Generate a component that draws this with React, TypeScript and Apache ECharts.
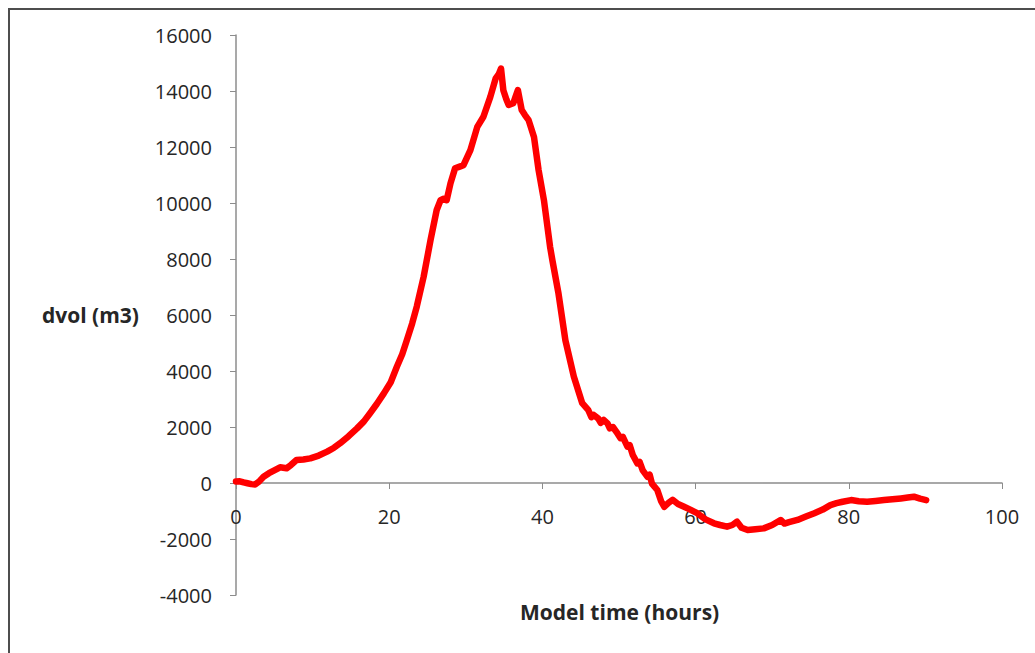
import React, { useEffect, useRef } from "react";
import * as echarts from "echarts";

const timeHours = [
  0, 0.5, 1, 1.5, 2, 2.5, 3, 3.6, 4.3, 5, 5.75, 6.6, 7.2, 7.9, 8.8, 9.7, 10.8, 11.9, 12.8, 13.6,
  14.7, 15.8, 16.7, 17.5, 18.4, 19.3, 20.2, 21, 21.7, 22.3, 23, 23.6, 24.5, 25.4, 26.2, 26.7, 27.1,
  27.5, 28, 28.6, 29.2, 29.7, 30.6, 31.5, 32.3, 33.2, 33.9, 34.3, 34.6, 34.9, 35.3, 35.6, 36.2, 36.5,
  36.8, 37.3, 37.7, 38.2, 38.9, 39.5, 40.2, 41, 41.3, 42.1, 43, 44.1, 45.2, 46, 46.4, 46.7, 47.3, 47.6,
  48, 48.5, 48.8, 49.2, 49.8, 50.2, 50.5, 51.1, 51.4, 51.8, 52.4, 52.7, 53.1, 53.7, 54, 54.3, 55,
  55.5, 55.9, 56.5, 57, 57.7, 58.5, 59.3, 60.2, 60.8, 61.3, 62.4, 63.2, 64.1, 64.8, 65.4, 66, 66.8,
  67.8, 68.9, 70, 71.1, 71.6, 72.2, 73.3, 74.4, 75.5, 76.6, 77.6, 78.4, 79.2, 80.3, 81.3, 82.4, 83.5,
  84.6, 85.7, 86.8, 87.7, 88.5, 89.3, 90.1,
];

const dvolValues = [
  50, 60, 20, -10, -40, -50, 50, 225, 350, 450, 560, 525, 650, 820, 840, 880, 980, 1120, 1260, 1420,
  1670, 1950, 2200, 2490, 2830, 3200, 3600, 4150, 4600, 5100, 5700, 6300, 7370, 8680, 9750, 10100, 10150,
  10100, 10700, 11240, 11300, 11350, 11890, 12720, 13080, 13790, 14450, 14600, 14800, 14030, 13700, 13500, 13560, 13800,
  14030, 13320, 13150, 12960, 12360, 11180, 10100, 8440, 7960, 6770, 5100, 3800, 2850, 2600, 2350, 2430, 2300, 2150,
  2250, 2130, 1950, 2000, 1770, 1600, 1650, 1300, 1350, 1000, 700, 750, 450, 225, 300, -20, -250,
  -650, -850, -700, -600, -750, -850, -950, -1080, -1200, -1300, -1440, -1500, -1560, -1500, -1380, -1600, -1680,
  -1650, -1620, -1500, -1320, -1450, -1400, -1320, -1200, -1080, -950, -790, -720, -670, -610, -650, -670, -640,
  -610, -580, -550, -520, -490, -560, -610,
];

const xTitle = "Model time (hours)";
const yTitle = "dvol (m3)";

const FONT = "'Open Sans', 'Liberation Sans', sans-serif";

export default function App() {
  const ref = useRef<HTMLDivElement>(null);

  useEffect(() => {
    if (!ref.current) return;
    const chart = echarts.init(ref.current, undefined, { renderer: "svg" });
    const data = timeHours.map((t, i) => [t, dvolValues[i]]);
    chart.setOption({
      animation: false,
      backgroundColor: "#ffffff",
      grid: { left: 236, right: 33, top: 35, bottom: 58, containLabel: false },
      xAxis: {
        type: "value",
        position: "bottom",
        offset: -112,
        min: 0,
        max: 100,
        interval: 20,
        axisLine: { show: true, onZero: false, lineStyle: { color: "#8c8c8c", width: 1.5 } },
        axisTick: { show: true, length: 6, inside: false, lineStyle: { color: "#8c8c8c" } },
        axisLabel: { margin: 23, color: "#262626", fontSize: 20, fontFamily: FONT },
        splitLine: { show: false },
      },
      yAxis: {
        type: "value",
        min: -4000,
        max: 16000,
        interval: 2000,
        axisLine: { show: true, onZero: false, lineStyle: { color: "#8c8c8c", width: 1.5 } },
        axisTick: { show: true, length: 6, inside: false, lineStyle: { color: "#8c8c8c" } },
        axisLabel: {
          margin: 24,
          color: "#262626",
          fontSize: 20,
          fontFamily: FONT,
          formatter: (v: number) => String(v),
        },
        splitLine: { show: false },
      },
      series: [
        {
          type: "line",
          data,
          showSymbol: false,
          symbol: "none",
          smooth: false,
          lineStyle: { color: "#ff0000", width: 6.5, join: "round", cap: "round" },
          itemStyle: { color: "#ff0000" },
        },
      ],
      graphic: [
        {
          type: "rect",
          shape: { x: 9, y: 9, width: 1100, height: 700 },
          style: { fill: "none", stroke: "#4d4d4d", lineWidth: 2 },
          silent: true,
        },
        {
          type: "text",
          left: 42,
          top: 304,
          style: { text: yTitle, fontSize: 21, fontWeight: "bold", fill: "#262626", fontFamily: FONT },
        },
        {
          type: "text",
          left: 520,
          top: 601,
          style: { text: xTitle, fontSize: 21, fontWeight: "bold", fill: "#262626", fontFamily: FONT },
        },
      ],
    });
    return () => chart.dispose();
  }, []);

  return (
    <div
      ref={ref}
      style={{ position: "fixed", left: 0, top: 0, width: 1035, height: 653 }}
    />
  );
}
